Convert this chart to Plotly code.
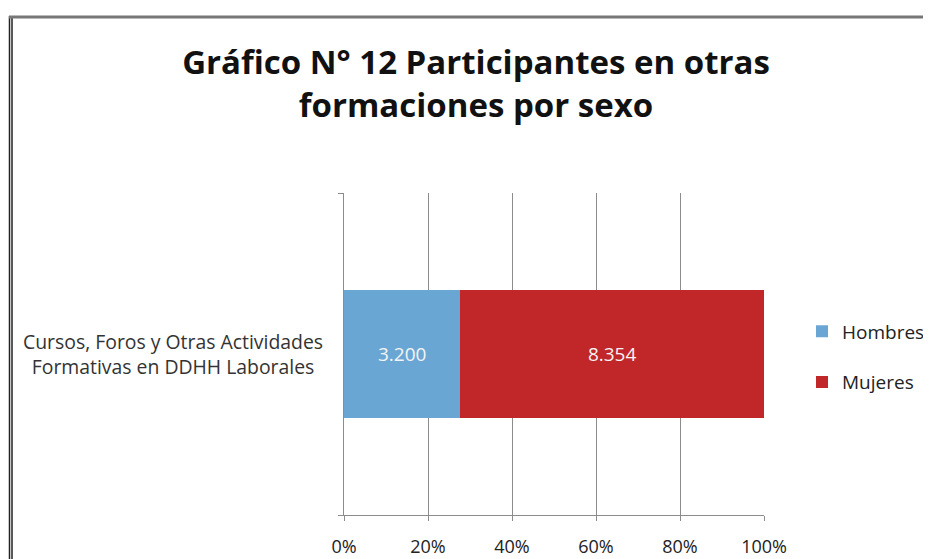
import plotly.graph_objects as go

# datos del gráfico
categorias = ["Cursos, Foros y Otras Actividades<br>Formativas en DDHH Laborales"]
hombres = [3200]
mujeres = [8354]
ticks_x = [0, 20, 40, 60, 80, 100]


def fmt_miles(v):
    # separador de miles con punto
    return f"{v:,}".replace(",", ".")


# la página html tiene 8px de margen en el body
OFF = 8
W, H = 931 - OFF, 559 - OFF
# área de trazado en píxeles de la página (según la imagen)
L, R, T, B = 344, 764, 193, 515


def px_x(p):
    return (p - L) / (R - L)


def px_y(p):
    return (B - p) / (B - T)


fig = go.Figure()
fig.add_trace(go.Bar(
    y=categorias, x=hombres, name="Hombres", orientation="h",
    marker=dict(color="#6AA6D4", line=dict(width=0)),
    text=[fmt_miles(v) for v in hombres], textposition="inside",
    insidetextanchor="middle",
    textfont=dict(color="#F4F4F4", size=19, family="Open Sans"),
    legendgroup="h",
))
fig.add_trace(go.Bar(
    y=categorias, x=mujeres, name="Mujeres", orientation="h",
    marker=dict(color="#C12628", line=dict(width=0)),
    text=[fmt_miles(v) for v in mujeres], textposition="inside",
    insidetextanchor="middle",
    textfont=dict(color="#F4F4F4", size=19, family="Open Sans"),
    legendgroup="m",
))

fig.update_layout(
    width=W, height=H,
    margin=dict(l=L - OFF, r=W - (R - OFF), t=T - OFF, b=H - (B - OFF),
                autoexpand=False),
    barmode="stack", barnorm="percent", bargap=0.6,
    paper_bgcolor="white", plot_bgcolor="white",
    font=dict(family="Open Sans", color="#333333", size=18),
    title=dict(
        text="<b>Gráfico N° 12 Participantes en otras<br>formaciones por sexo</b>",
        x=px_x(476), xref="paper", xanchor="center",
        y=1 - (74 - OFF) / H, yref="container", yanchor="middle",
        font=dict(family="Open Sans", size=33, color="#111111"),
    ),
    legend=dict(
        x=px_x(802), xanchor="left", y=px_y(357), yanchor="middle",
        traceorder="grouped", tracegroupgap=23,
        font=dict(size=19, color="#222222"),
        itemwidth=30,
    ),
    showlegend=True,
    xaxis=dict(
        range=[0, 100], tickvals=ticks_x, ticktext=[f"{t}%" for t in ticks_x],
        showgrid=True, gridcolor="#8C8C8C", gridwidth=1,
        showline=True, linecolor="#8C8C8C", linewidth=1,
        ticks="outside", ticklen=5, tickcolor="#8C8C8C",
        zeroline=False, tickfont=dict(size=18, color="#222222"),
        ticklabelstandoff=10,
    ),
    yaxis=dict(
        showline=True, linecolor="#8C8C8C", linewidth=1,
        ticks="outside", ticklen=5, tickcolor="#8C8C8C",
        tickson="boundaries", showgrid=False, showticklabels=False,
    ),
    annotations=[
        # etiqueta de la categoría, centrada en dos líneas
        dict(text=categorias[0], xref="paper", x=px_x(325), xanchor="right",
             yref="y", y=categorias[0], yanchor="middle", align="center",
             showarrow=False, font=dict(size=19.4, color="#333333")),
    ],
    shapes=[
        # marco del gráfico: doble línea a la izquierda, línea arriba
        dict(type="line", xref="paper", yref="paper",
             x0=px_x(9.5), x1=px_x(9.5), y0=px_y(16), y1=px_y(600),
             line=dict(color="#222222", width=1.5)),
        dict(type="line", xref="paper", yref="paper",
             x0=px_x(12), x1=px_x(12), y0=px_y(16), y1=px_y(600),
             line=dict(color="#222222", width=1.5)),
        dict(type="line", xref="paper", yref="paper",
             x0=px_x(9), x1=px_x(1000), y0=px_y(17), y1=px_y(17),
             line=dict(color="#777777", width=3)),
    ],
)

fig.write_html("out.html")
